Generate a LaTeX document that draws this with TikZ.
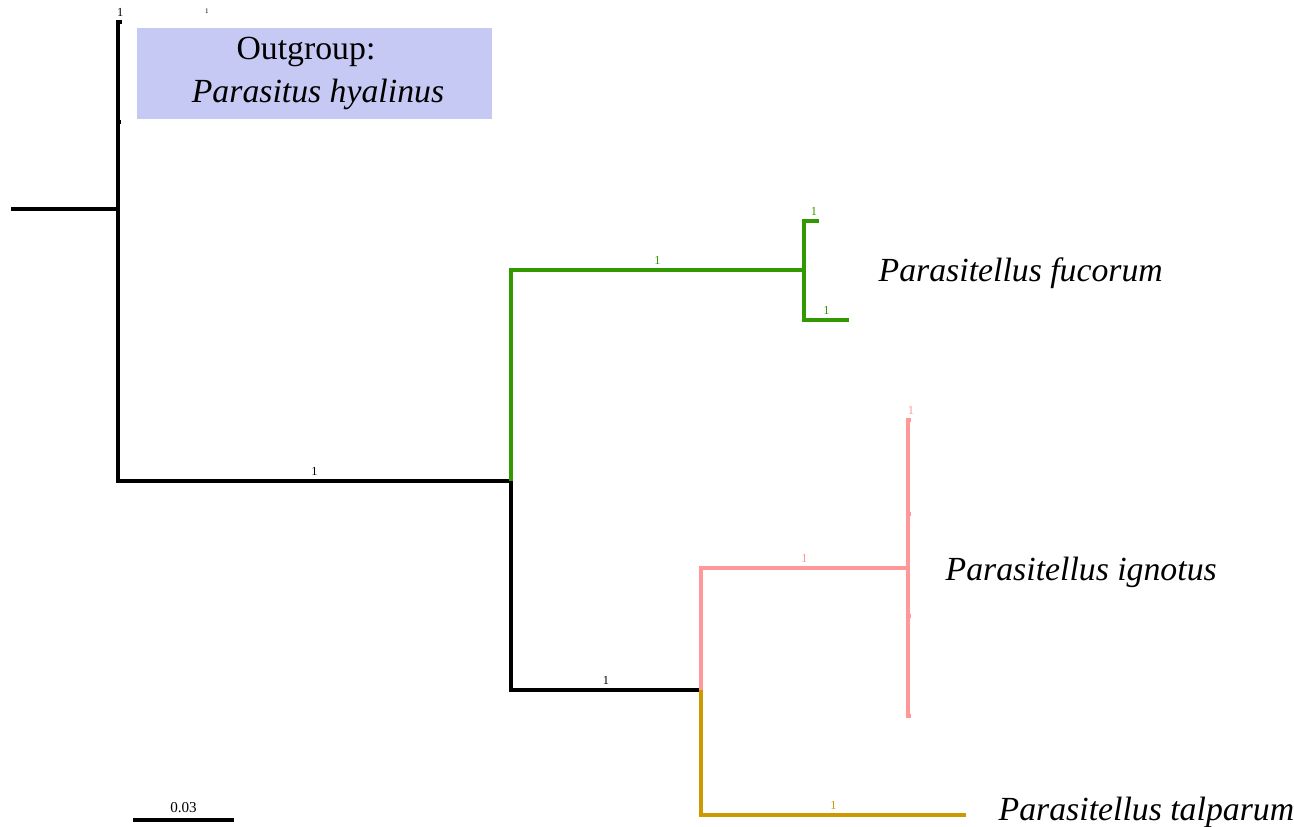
\documentclass[tikz,border=0pt]{standalone}
\usepackage{fontspec}
\setmainfont{Liberation Serif}
\definecolor{cladegreen}{RGB}{51,153,0}
\definecolor{cladepink}{RGB}{255,153,153}
\definecolor{cladegold}{RGB}{204,153,0}
\definecolor{boxblue}{RGB}{199,201,245}
\tikzset{
    branch/.style={draw,line width=1pt},
    support/.style={font=\fontsize{3.5}{4}\selectfont,inner sep=1pt},
    taxon/.style={font=\fontsize{9.6}{11}\selectfont\itshape,anchor=west,inner sep=0pt}
}
\begin{document}
\begin{tikzpicture}[x=0.01cm,y=-0.01cm]
        \useasboundingbox (0,0) rectangle (1294,826);

        \coordinate (0) at (11,209);
        \coordinate (1) at (118,209);
        \coordinate (2) at (122,22);
        \coordinate (3) at (121,122);
        \coordinate (4) at (511,481);
        \coordinate (5) at (804,270);
        \coordinate (6) at (819,221);
        \coordinate (7) at (849,320);
        \coordinate (8) at (701,690);
        \coordinate (9) at (908,568);
        \coordinate (10) at (911,420);
        \coordinate (11) at (911,514);
        \coordinate (12) at (911,616);
        \coordinate (13) at (911,716);
        \coordinate (14) at (966,815);

        \node[fill=boxblue, minimum width=3.55cm, minimum height=0.91cm, inner ysep=1pt, font=\fontsize{9.6}{12}\selectfont, align=center] (og) at (314.5,73.5) {Outgroup:\hspace*{0.17cm}\\ \hspace*{0.07cm}\textit{Parasitus hyalinus}};
        \node[taxon] (fuc) at (878,273) {Parasitellus fucorum};
        \node[taxon] (ign) at (945,572) {Parasitellus ignotus};
        \node[taxon] (tal) at (998,812) {Parasitellus talparum};

        \path[branch] (0) -- (1);
        \path[branch] (1) |- node[support, pos=1, above, xshift=-0.5pt] {1} (2);
        \path[branch] (1) |- (3);
        \node[font=\fontsize{2}{2}\selectfont] (ogdot) at (207,11) {1};
        \path[branch] (1) |- node[support, pos=0.75, above] {1} (4);

        \path[branch, cladegreen] (4) |- node[support, pos=0.75, above] {1} (5);
        \path[branch, cladegreen] (5) |- node[support, pos=0.83, above] {1} (6);
        \path[branch, cladegreen] (5) |- node[support, pos=0.75, above] {1} (7);

        \path[branch] (4) |- node[support, pos=0.75, above] {1} (8);
        \path[branch, cladepink] (8) |- node[support, pos=0.75, above] {1} (9);
        \path[branch, cladepink] (9) |- node[support, pos=1, above] {1} (10);
        \path[branch, cladepink] (9) |- (11);
        \path[branch, cladepink] (9) |- (12);
        \path[branch, cladepink] (9) |- (13);
        \path[branch, cladegold] (8) |- node[support, pos=0.75, above] {1} (14);

        \coordinate (sb1) at (133,820);
        \coordinate (sb2) at (234,820);
        \path[branch] (sb1) -- node[above, font=\fontsize{4.3}{5}\selectfont, inner sep=1.5pt] {0.03} (sb2);
    \end{tikzpicture}
\end{document}
